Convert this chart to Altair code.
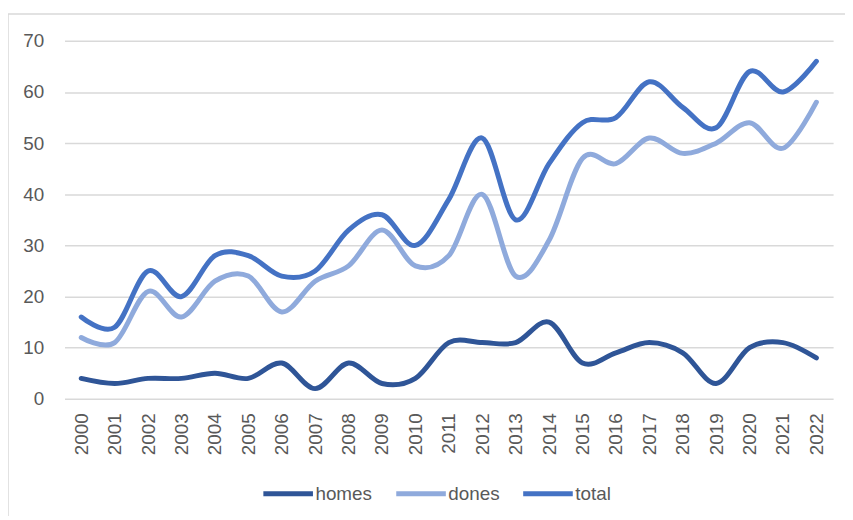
import altair as alt
import pandas as pd

years = [str(y) for y in range(2000, 2023)]
homes = [4, 3, 4, 4, 5, 4, 7, 2, 7, 3, 4, 11, 11, 11, 15, 7, 9, 11, 9, 3, 10, 11, 8]
dones = [12, 11, 21, 16, 23, 24, 17, 23, 26, 33, 26, 28, 40, 24, 31, 47, 46, 51, 48, 50, 54, 49, 58]
total = [16, 14, 25, 20, 28, 28, 24, 25, 33, 36, 30, 39, 51, 35, 46, 54, 55, 62, 57, 53, 64, 60, 66]
series = ["homes", "dones", "total"]
colors = ["#2F5597", "#8FAADC", "#4472C4"]

rows = []
for name, vals in zip(series, [homes, dones, total]):
    for i, (y, v) in enumerate(zip(years, vals)):
        rows.append({"year": y, "value": v, "series": name, "order": series.index(name)})
df = pd.DataFrame(rows)

FONT = "Liberation Sans"
GRAY = "#595959"

frame = alt.Chart(pd.DataFrame({"a": [0]})).mark_rect(
    fill="transparent", stroke="#D9D9D9", strokeWidth=1.5, clip=False
).encode(
    x=alt.value(-57), x2=alt.value(900), y=alt.value(-27), y2=alt.value(600)
)

lines = alt.Chart(df).mark_line(
    interpolate="cardinal", strokeWidth=5, strokeCap="round", strokeJoin="round"
).encode(
    x=alt.X("year:O", sort=years, scale=alt.Scale(type="point", padding=0.5),
            axis=alt.Axis(title=None, labelAngle=270, labelFontSize=19, labelColor=GRAY,
                          labelFont=FONT, domain=False, ticks=False, labelPadding=14)),
    y=alt.Y("value:Q", scale=alt.Scale(domain=[0, 70], nice=False, zero=True),
            axis=alt.Axis(title=None, values=[0, 10, 20, 30, 40, 50, 60, 70],
                          labelFontSize=19, labelColor=GRAY, labelFont=FONT,
                          domain=False, ticks=False, labelPadding=21,
                          grid=True, gridColor="#D9D9D9", gridWidth=1.5)),
    color=alt.Color("series:N", scale=alt.Scale(domain=series, range=colors),
                    sort=series,
                    legend=alt.Legend(title=None, orient="none", legendX=198, legendY=429,
                                      direction="horizontal", symbolType="stroke",
                                      symbolSize=2500, symbolStrokeWidth=5,
                                      labelFontSize=19, labelColor=GRAY, labelFont=FONT,
                                      labelOffset=0, columnPadding=13)),
    order=alt.Order("order:Q"),
    detail="series:N",
)

chart = alt.layer(frame, lines).properties(
    width=775, height=361,
    autosize=alt.AutoSizeParams(type="none"),
    padding={"left": 57, "top": 31, "right": 12, "bottom": 116},
).configure_view(stroke=None)

chart.save("out.html", embed_options={"renderer": "svg", "actions": False})
